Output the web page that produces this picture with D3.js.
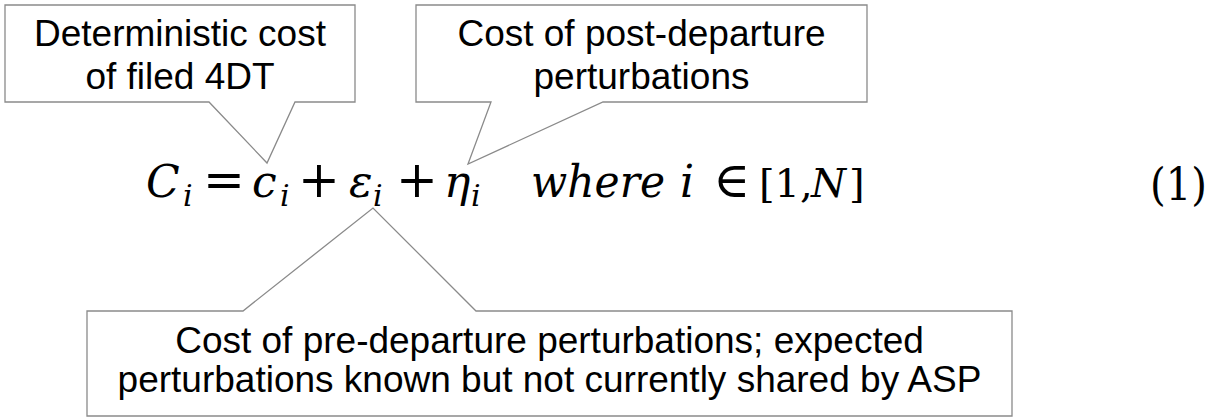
<!DOCTYPE html>
<html>
<head>
<meta charset="utf-8">
<script src="https://cdn.jsdelivr.net/npm/d3@7"></script>
<style>
  body { margin: 0; background: #fff; }
  .note { font-family: "Liberation Sans", Arial, sans-serif; font-size: 37px; fill: #000; }
  .eq { font-family: "DejaVu Serif", "Liberation Serif", serif; fill: #000; }
</style>
</head>
<body>
<div id="chart-area"></div>
<script>
// callout texts
var detLines = ["Deterministic cost", "of filed 4DT"];
var postLines = ["Cost of post-departure", "perturbations"];
var preLines = ["Cost of pre-departure perturbations; expected",
                "perturbations known but not currently shared by ASP"];

// equation tokens, 1 = italic / subscript / operator
var eqTokens = ["C", "i", "=", "c", "i", "+", "\u03B5", "i", "+", "\u03B7", "i",
                "where", "i", "\u2208", "[1,", "N", "]"];
var eqItalic = [1, 1, 0, 1, 1, 0, 1, 1, 0, 1, 1, 1, 1, 0, 0, 1, 0];
var eqSub    = [0, 1, 0, 0, 1, 0, 0, 1, 0, 0, 1, 0, 0, 0, 0, 0, 0];
var eqNumber = "(1)";

var width = 1217, height = 419;

var svg = d3.select("#chart-area").append("svg")
    .attr("width", width)
    .attr("height", height);

// layout (pixels)
var eqX = [146, 183, 203, 252, 280, 298, 349, 373, 396, 444, 471, 531, 680, 713, 759, 811, 849];
var eqSize = [44, 30, 50, 44, 30, 50, 44, 30, 50, 44, 30, 44, 44, 50, 40, 40, 40];
var eqBase = 197;

var callouts = [
  {box: [5, 5, 355, 102], side: "bottom", p: [209, 295], tip: [267, 163], lines: detLines, y: [46, 89]},
  {box: [416, 5, 867, 102], side: "bottom", p: [491, 603], tip: [468, 164], lines: postLines, y: [46, 89]},
  {box: [87, 311, 1012, 416], side: "top", p: [243, 476], tip: [373, 208], lines: preLines, y: [353, 392]}
];

var line = d3.line();

callouts.forEach(function(c) {
  var x0 = c.box[0], y0 = c.box[1], x1 = c.box[2], y1 = c.box[3];
  var pts;
  if (c.side == "bottom") {
    pts = [[x0, y0], [x1, y0], [x1, y1], [c.p[1], y1], c.tip, [c.p[0], y1], [x0, y1]];
  } else {
    pts = [[x0, y0], [c.p[0], y0], c.tip, [c.p[1], y0], [x1, y0], [x1, y1], [x0, y1]];
  }
  svg.append("path")
    .attr("d", line(pts) + "Z")
    .attr("fill", "#fff")
    .attr("stroke", "#8a8a8a")
    .attr("stroke-width", 1.3);

  svg.selectAll(null)
    .data(c.lines)
    .enter()
    .append("text")
    .attr("class", "note")
    .attr("x", (x0 + x1) / 2)
    .attr("y", function(d, i) { return c.y[i]; })
    .attr("text-anchor", "middle")
    .text(function(d) { return d; });
});

// equation
svg.selectAll(".eqtok")
  .data(eqTokens)
  .enter()
  .append("text")
  .attr("class", "eq eqtok")
  .attr("x", function(d, i) { return eqX[i]; })
  .attr("y", function(d, i) { return eqSub[i] ? eqBase + 9 : eqBase; })
  .attr("font-size", function(d, i) { return eqSize[i]; })
  .attr("font-style", function(d, i) { return eqItalic[i] ? "italic" : "normal"; })
  .attr("textLength", function(d) { return d == "where" ? 134 : null; })
  .attr("lengthAdjust", "spacingAndGlyphs")
  .text(function(d) { return d; });

svg.append("text")
  .attr("class", "eq")
  .attr("x", 1150)
  .attr("y", eqBase + 3)
  .attr("font-size", 44)
  .attr("textLength", 57)
  .attr("lengthAdjust", "spacingAndGlyphs")
  .text(eqNumber);
</script>
</body>
</html>
